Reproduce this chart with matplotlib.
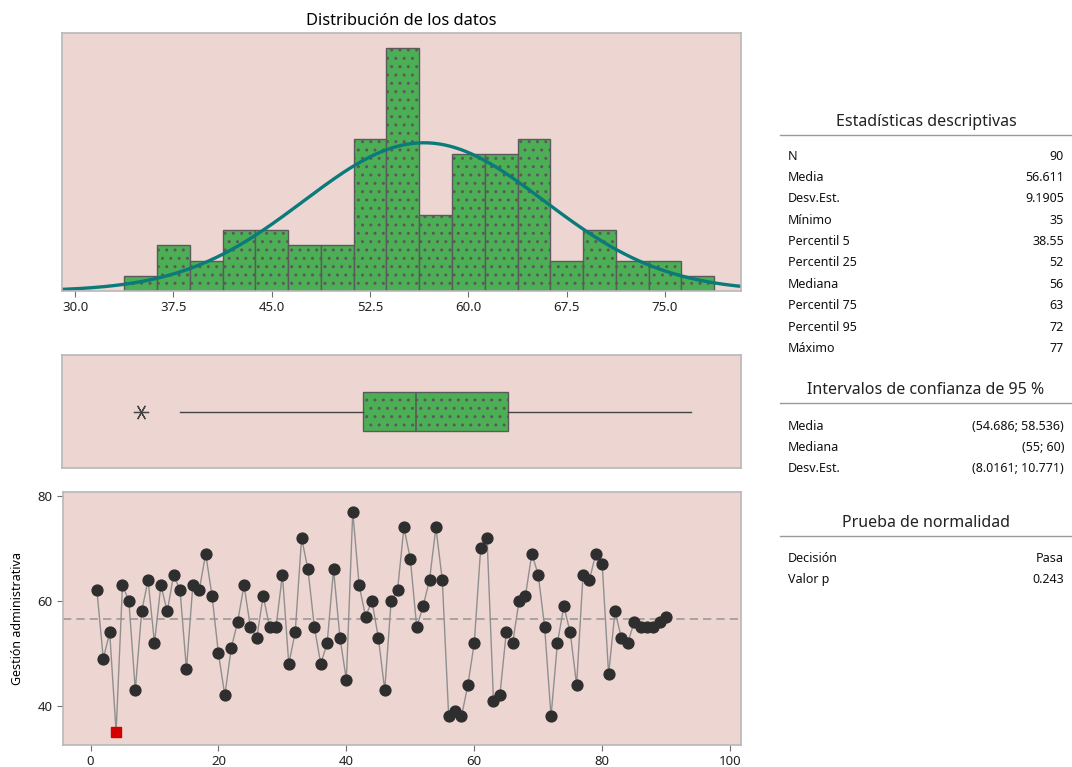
import numpy as np
import matplotlib
matplotlib.use("Agg")
import matplotlib.pyplot as plt
from matplotlib.lines import Line2D

plt.rcParams['font.family'] = ['Noto Sans', 'DejaVu Sans']

# --- datos: Gestión administrativa, 90 observaciones en orden ---
gestion = [62, 49, 54, 35, 63, 60, 43, 58, 64, 52,
           63, 58, 65, 62, 47, 63, 62, 69, 61, 50,
           42, 51, 56, 63, 55, 53, 61, 55, 55, 65,
           48, 54, 72, 66, 55, 48, 52, 66, 53, 45,
           77, 63, 57, 60, 53, 43, 60, 62, 74, 68,
           55, 59, 64, 74, 64, 38, 39, 38, 44, 52,
           70, 72, 41, 42, 54, 52, 60, 61, 69, 65,
           55, 38, 52, 59, 54, 44, 65, 64, 69, 67,
           46, 58, 53, 52, 56, 55, 55, 55, 56, 57]

media = 56.611
desv = 9.1905
ancho_clase = 2.5
inicio_clase = 33.75
hist_ticks = [30.0, 37.5, 45.0, 52.5, 60.0, 67.5, 75.0]

desc_labels = ['N', 'Media', 'Desv.Est.', 'Mínimo', 'Percentil 5', 'Percentil 25',
               'Mediana', 'Percentil 75', 'Percentil 95', 'Máximo']
desc_values = ['90', '56.611', '9.1905', '35', '38.55', '52', '56', '63', '72', '77']
ic_labels = ['Media', 'Mediana', 'Desv.Est.']
ic_values = ['(54.686; 58.536)', '(55; 60)', '(8.0161; 10.771)']
norm_labels = ['Decisión', 'Valor p']
norm_values = ['Pasa', '0.243']

FONDO = '#EDD6D1'
VERDE = '#4DAF55'
BORDE = '#5a5a5a'
MARCO = '#b8b8b8'

W, H = 1072, 767
fig = plt.figure(figsize=(W / 100, H / 100), dpi=100)


def caja(l, t, r, b):
    return [l / W, 1 - b / H, (r - l) / W, (b - t) / H]


def estilo(ax):
    ax.set_facecolor(FONDO)
    for s in ax.spines.values():
        s.set_color(MARCO)
        s.set_linewidth(1.2)
    ax.tick_params(colors='#707070', labelcolor='#222222', labelsize=9.5, length=4, width=0.8)


x = np.array(gestion)

# ── histograma + curva normal ─────────────────────────────────────────────
ax_h = fig.add_axes(caja(62, 33, 741, 291))
estilo(ax_h)
bordes = np.arange(inicio_clase, x.max() + ancho_clase, ancho_clase)
ax_h.hist(x, bins=bordes, color=VERDE, edgecolor=BORDE, linewidth=1.0, hatch='..')
xs = np.linspace(28, 82, 400)
ys = len(x) * ancho_clase * np.exp(-0.5 * ((xs - media) / desv) ** 2) / (desv * np.sqrt(2 * np.pi))
ax_h.plot(xs, ys, color='#0a7a7a', lw=2.4)
ax_h.set_xlim(29.0, 80.8)
ax_h.set_ylim(0, 17)
ax_h.set_yticks([])
ax_h.set_xticks(hist_ticks)
ax_h.set_xticklabels([f'{t:.1f}' for t in hist_ticks])
ax_h.set_title('Distribución de los datos', fontsize=11.8, pad=6)

# ── gráfica de caja ───────────────────────────────────────────────────────
ax_b = fig.add_axes(caja(62, 355, 741, 468))
estilo(ax_b)
bp = ax_b.boxplot(x, orientation='horizontal', widths=0.34, patch_artist=True,
                  showcaps=False, whis=1.5,
                  boxprops=dict(facecolor=VERDE, edgecolor=BORDE, linewidth=1.0, hatch='..'),
                  medianprops=dict(color=BORDE, linewidth=1.2),
                  whiskerprops=dict(color='#444444', linewidth=1.0),
                  flierprops=dict(marker=(6, 2, 90), markersize=11, markeredgecolor='#444444',
                                  markeredgewidth=0.9))
ax_b.set_xlim(29.0, 80.8)
ax_b.set_ylim(0.5, 1.5)
ax_b.set_xticks([])
ax_b.set_yticks([])

# ── serie en orden de observación ─────────────────────────────────────────
ax_t = fig.add_axes(caja(63, 492, 741, 745))
estilo(ax_t)
orden = np.arange(1, len(x) + 1)
q1, q3 = np.percentile(x, [25, 75])
atipico = (x < q1 - 1.5 * (q3 - q1)) | (x > q3 + 1.5 * (q3 - q1))
ax_t.axhline(media, color='#9a9a9a', lw=1.2, ls=(0, (5, 3)))
ax_t.plot(orden, x, color='#8f8f8f', lw=1.0, zorder=2)
ax_t.plot(orden[~atipico], x[~atipico], 'o', color='#2e2e2e', ms=7.8, zorder=3)
ax_t.plot(orden[atipico], x[atipico], 's', color='#d40000', ms=7.5, zorder=3)
ax_t.set_xlim(-4.3, 101.7)
ax_t.set_ylim(32.55, 80.76)
ax_t.set_xticks([0, 20, 40, 60, 80, 100])
ax_t.set_yticks([40, 60, 80])
ax_t.set_ylabel('Gestión administrativa', fontsize=9, labelpad=10)

# ── tablas de estadísticas ────────────────────────────────────────────────
x_izq, x_der = 788 / W, 1064 / W
x_cen = 926 / W


def tabla(titulo, y_tit, labels, values, y0):
    fig.text(x_cen, 1 - y_tit / H, titulo, ha='center', va='center', fontsize=11.5, color='#222222')
    fig.add_artist(Line2D([780 / W, 1072 / W], [1 - (y_tit + 13) / H] * 2,
                          color='#9a9a9a', lw=1.0))
    for i, (lb, v) in enumerate(zip(labels, values)):
        yy = 1 - (y0 + i * 21.4) / H
        fig.text(x_izq, yy, lb, ha='left', va='center', fontsize=9, color='#111111')
        fig.text(x_der, yy, v, ha='right', va='center', fontsize=9, color='#111111')


tabla('Estadísticas descriptivas', 122, desc_labels, desc_values, 156)
tabla('Intervalos de confianza de 95 %', 390, ic_labels, ic_values, 426)
tabla('Prueba de normalidad', 523, norm_labels, norm_values, 558)

fig.savefig('out.png', dpi=100, facecolor='white')
